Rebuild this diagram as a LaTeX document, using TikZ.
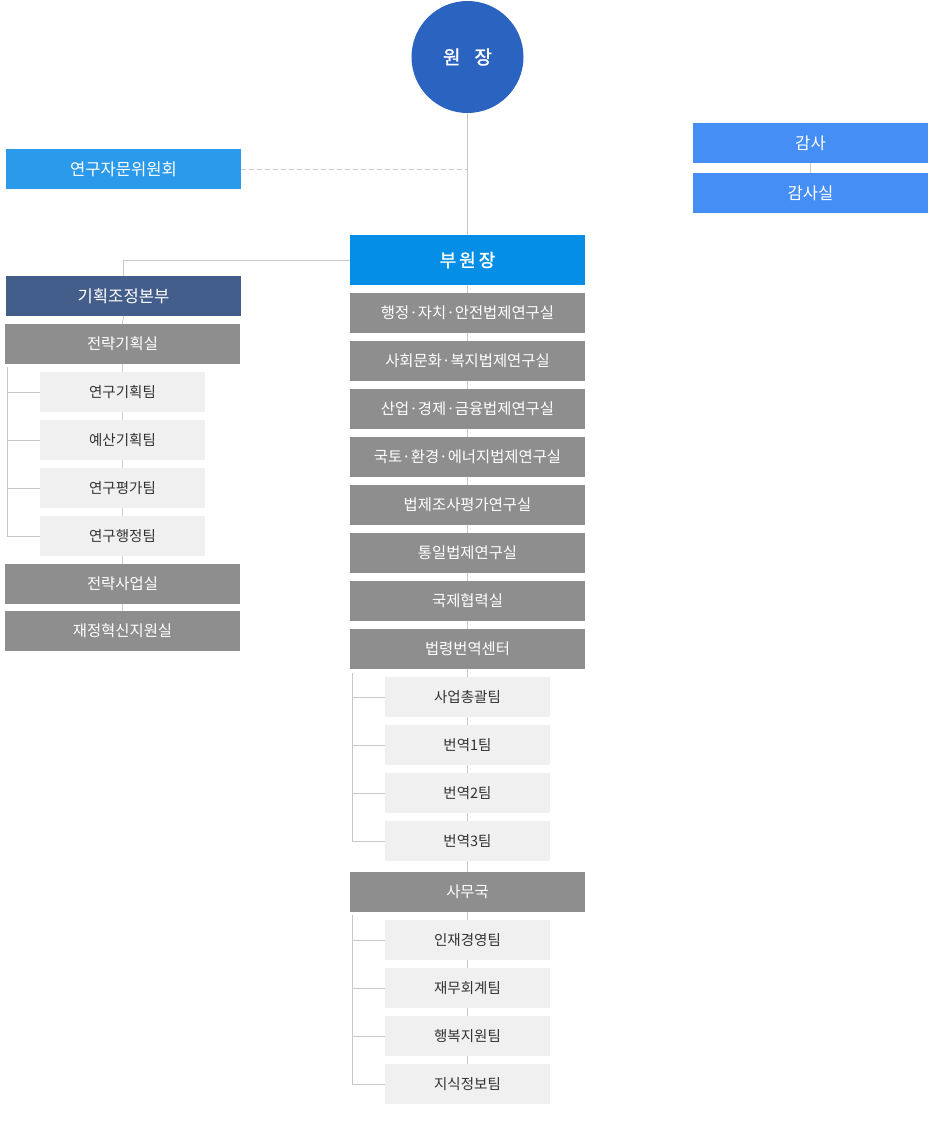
\documentclass[tikz,border=0pt]{standalone}
\usepackage{fontspec}
\setmainfont{Noto Sans CJK KR}
\newfontfamily\krbold[FakeBold=1.5]{Noto Sans CJK KR}
\definecolor{cCirc}{HTML}{2B63C0}
\definecolor{cAdv}{HTML}{2C9AEB}
\definecolor{cVice}{HTML}{058EE6}
\definecolor{cAudit}{HTML}{448EF5}
\definecolor{cPlan}{HTML}{445E8C}
\definecolor{cGray}{HTML}{8E8E8E}
\definecolor{cTeam}{HTML}{F0F0F0}
\definecolor{cTeamTxt}{HTML}{333333}
\definecolor{cLine}{HTML}{C8C8C8}
\tikzset{
  bigbox/.style={minimum width=235pt, minimum height=40pt, inner sep=0pt, font=\fontsize{16.6}{19}\selectfont, text=white},
  graybox/.style={bigbox, fill=cGray, font=\fontsize{15.4}{18}\selectfont},
  teambox/.style={minimum width=165pt, minimum height=40pt, inner sep=0pt, fill=cTeam, text=cTeamTxt, font=\fontsize{14.5}{17}\selectfont},
  link/.style={draw=cLine, line width=0.8pt},
}
\begin{document}
\begin{tikzpicture}[x=1pt,y=-1pt]
\useasboundingbox (0,0) rectangle (933,1122);
% nodes
\node[circle, fill=cCirc, minimum size=112pt, inner sep=0pt, text=white, font=\krbold\fontsize{19}{22}\selectfont] (dir) at (467.5,57) {원\hspace{14pt}장};
\node[bigbox, fill=cAdv] (adv) at (123.5,169) {연구자문위원회};
\node[bigbox, fill=cAudit] (aud) at (810.5,143) {감사};
\node[bigbox, fill=cAudit] (audo) at (810.5,193) {감사실};
\node[bigbox, fill=cVice, minimum height=50pt, font=\krbold\fontsize{18}{21}\selectfont] (vice) at (467.5,260) {부\hspace{3pt}원\hspace{3pt}장};
\node[bigbox, fill=cPlan] (plan) at (123.5,296) {기획조정본부};
\node[graybox] (l1) at (122.5,344) {전략기획실};
\node[teambox] (lt1) at (122.5,392) {연구기획팀};
\node[teambox] (lt2) at (122.5,440) {예산기획팀};
\node[teambox] (lt3) at (122.5,488) {연구평가팀};
\node[teambox] (lt4) at (122.5,536) {연구행정팀};
\node[graybox] (l2) at (122.5,584) {전략사업실};
\node[graybox] (l3) at (122.5,631) {재정혁신지원실};
\node[graybox] (r1) at (467.5,313) {행정·자치·안전법제연구실};
\node[graybox] (r2) at (467.5,361) {사회문화·복지법제연구실};
\node[graybox] (r3) at (467.5,409) {산업·경제·금융법제연구실};
\node[graybox] (r4) at (467.5,457) {국토·환경·에너지법제연구실};
\node[graybox] (r5) at (467.5,505) {법제조사평가연구실};
\node[graybox] (r6) at (467.5,553) {통일법제연구실};
\node[graybox] (r7) at (467.5,601) {국제협력실};
\node[graybox] (r8) at (467.5,649) {법령번역센터};
\node[teambox] (t1) at (467.5,697) {사업총괄팀};
\node[teambox] (t2) at (467.5,745) {번역1팀};
\node[teambox] (t3) at (467.5,793) {번역2팀};
\node[teambox] (t4) at (467.5,841) {번역3팀};
\node[graybox] (r9) at (467.5,892) {사무국};
\node[teambox] (s1) at (467.5,940) {인재경영팀};
\node[teambox] (s2) at (467.5,988) {재무회계팀};
\node[teambox] (s3) at (467.5,1036) {행복지원팀};
\node[teambox] (s4) at (467.5,1084) {지식정보팀};
% connectors
\draw[link] (dir.south) -- (vice.north);
\draw[link, dashed, dash pattern=on 5pt off 3pt] (adv.east) -- (adv.east -| dir.south);
\draw[link] (aud.south) -- (audo.north);
\draw[link] (vice.west) -| (plan.north);
\draw[link] (plan.south) -- (l1.north);
\draw[link] (l1.south) -- (lt1.north);
\draw[link] (lt1.south) -- (lt2.north);
\draw[link] (lt2.south) -- (lt3.north);
\draw[link] (lt3.south) -- (lt4.north);
\draw[link] (lt4.south) -- (l2.north);
\draw[link] (l2.south) -- (l3.north);
\coordinate (lb) at (7,367);
\draw[link] (lb) |- (lt4.west);
\draw[link] (lb |- lt1.west) -- (lt1.west);
\draw[link] (lb |- lt2.west) -- (lt2.west);
\draw[link] (lb |- lt3.west) -- (lt3.west);
\draw[link] (vice.south) -- (r1.north);
\draw[link] (r1.south) -- (r2.north);
\draw[link] (r2.south) -- (r3.north);
\draw[link] (r3.south) -- (r4.north);
\draw[link] (r4.south) -- (r5.north);
\draw[link] (r5.south) -- (r6.north);
\draw[link] (r6.south) -- (r7.north);
\draw[link] (r7.south) -- (r8.north);
\draw[link] (r8.south) -- (t1.north);
\draw[link] (t1.south) -- (t2.north);
\draw[link] (t2.south) -- (t3.north);
\draw[link] (t3.south) -- (t4.north);
\draw[link] (t4.south) -- (r9.north);
\coordinate (rb) at (352,673);
\draw[link] (rb) |- (t4.west);
\draw[link] (rb |- t1.west) -- (t1.west);
\draw[link] (rb |- t2.west) -- (t2.west);
\draw[link] (rb |- t3.west) -- (t3.west);
\draw[link] (r9.south) -- (s1.north);
\draw[link] (s1.south) -- (s2.north);
\draw[link] (s2.south) -- (s3.north);
\draw[link] (s3.south) -- (s4.north);
\coordinate (sb) at (352,915);
\draw[link] (sb) |- (s4.west);
\draw[link] (sb |- s1.west) -- (s1.west);
\draw[link] (sb |- s2.west) -- (s2.west);
\draw[link] (sb |- s3.west) -- (s3.west);
\end{tikzpicture}
\end{document}
